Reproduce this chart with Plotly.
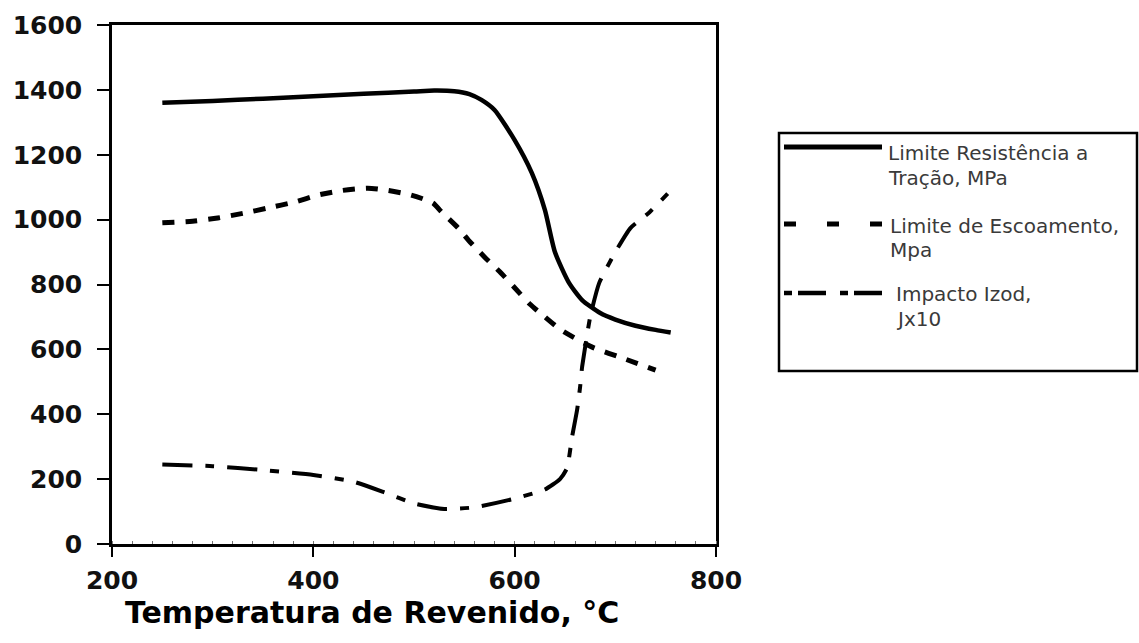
import plotly.graph_objects as go

# ---------------- data ----------------
temp_tensile = [250, 300, 350, 400, 450, 500, 520, 540, 555, 567, 580, 600, 617, 630, 640, 654, 667, 685, 700, 720, 740, 755]
tensile_mpa = [1360, 1366, 1373, 1380, 1388, 1395, 1398, 1396, 1387, 1369, 1338, 1245, 1144, 1030, 900, 805, 752, 712, 692, 673, 660, 652]

temp_yield = [250, 280, 305, 331, 355, 381, 405, 429, 454, 474, 497, 519, 527, 544, 554, 570, 585, 600, 615, 630, 646, 677, 710, 740]
yield_mpa = [990, 995, 1005, 1020, 1036, 1054, 1076, 1090, 1097, 1090, 1076, 1051, 1025, 974, 937, 885, 840, 790, 740, 700, 660, 607, 570, 536]

temp_izod = [250, 300, 350, 400, 440, 470, 500, 530, 560, 600, 630, 645, 652, 657, 662, 665, 667, 675, 684, 700, 715, 734, 752]
izod_jx10 = [245, 240, 228, 213, 192, 160, 125, 108, 113, 140, 168, 200, 234, 330, 413, 484, 546, 700, 805, 900, 974, 1023, 1080]

x_ticks = [200, 400, 600, 800]
y_ticks = [0, 200, 400, 600, 800, 1000, 1200, 1400, 1600]

legend_lines = [
    ["Limite Resistência a", "Tração, MPa"],
    ["Limite de Escoamento,", "Mpa"],
    ["Impacto Izod,", "Jx10"],
]
x_title = "Temperatura de Revenido, °C"

# ---------------- layout geometry (pixels) ----------------
W, H = 1139, 643
L, R, T, B = 112, 716, 25, 544


def px(xp):
    return (xp - L) / (R - L)


def py(yp):
    return (B - yp) / (B - T)


fig = go.Figure()
fig.add_trace(go.Scatter(x=temp_tensile, y=tensile_mpa, mode="lines",
                         line=dict(color="black", width=4.5, shape="spline", smoothing=0.6),
                         name="Limite Resistência a Tração, MPa", showlegend=False))
fig.add_trace(go.Scatter(x=temp_yield, y=yield_mpa, mode="lines",
                         line=dict(color="black", width=5, dash="12px,11px", shape="spline", smoothing=0.6),
                         name="Limite de Escoamento, Mpa", showlegend=False))
fig.add_trace(go.Scatter(x=temp_izod, y=izod_jx10, mode="lines",
                         line=dict(color="black", width=4, dash="30px,13px,9px,13px", shape="spline", smoothing=0.5),
                         name="Impacto Izod, Jx10", showlegend=False))

tickfont = dict(family="DejaVu Sans", size=25, color="#111111", weight="bold")
fig.update_layout(
    width=W, height=H,
    margin=dict(l=L, r=W - R, t=T, b=H - B, pad=0),
    paper_bgcolor="white", plot_bgcolor="white",
    xaxis=dict(range=[200, 800], tickvals=x_ticks, showgrid=False, zeroline=False,
               showline=True, linecolor="black", linewidth=2.5, mirror=True,
               ticks="outside", ticklen=10, tickwidth=2, tickcolor="black",
               tickfont=tickfont, ticklabelstandoff=2,
               minor=dict(ticks="inside", ticklen=3, tickwidth=1, tickcolor="#777", dtick=20)),
    yaxis=dict(range=[0, 1600], tickvals=y_ticks, showgrid=False, zeroline=False,
               showline=True, linecolor="black", linewidth=2.5, mirror=True,
               ticks="outside", ticklen=12, tickwidth=2, tickcolor="black",
               tickfont=tickfont, ticklabelstandoff=10),
)

# x-axis title
fig.add_annotation(text=x_title, xref="paper", yref="paper", x=px(372), y=py(612),
                   xanchor="center", yanchor="middle", showarrow=False,
                   font=dict(family="DejaVu Sans", size=30, color="black", weight="bold"))

# ---------------- hand-drawn legend box (as in the reference) ----------------
shapes = [dict(type="rect", xref="paper", yref="paper", x0=px(779), x1=px(1137), y0=py(371), y1=py(133),
               line=dict(color="black", width=2.5), fillcolor="white", layer="above")]
sample_y = [147, 224, 293]
sample_styles = [
    dict(width=5, dash="solid", x1=882),
    dict(width=5, dash="12px,31px", x1=882),
    dict(width=4.5, dash="8px,6px,28px,14px", x1=885),
]
for yv, st in zip(sample_y, sample_styles):
    shapes.append(dict(type="line", xref="paper", yref="paper", x0=px(784), x1=px(st["x1"]),
                       y0=py(yv), y1=py(yv), line=dict(color="black", width=st["width"], dash=st["dash"])))
fig.update_layout(shapes=shapes)

text_pos = [(886, [153, 178]), (888, [226, 250]), (894, [294, 319])]
for (tx, ys), lines in zip(text_pos, legend_lines):
    for yv, t in zip(ys, lines):
        fig.add_annotation(text=t, xref="paper", yref="paper", x=px(tx), y=py(yv),
                           xanchor="left", yanchor="middle", showarrow=False,
                           font=dict(family="DejaVu Sans", size=20, color="#3a3a3a"))

fig.write_html("out.html")
